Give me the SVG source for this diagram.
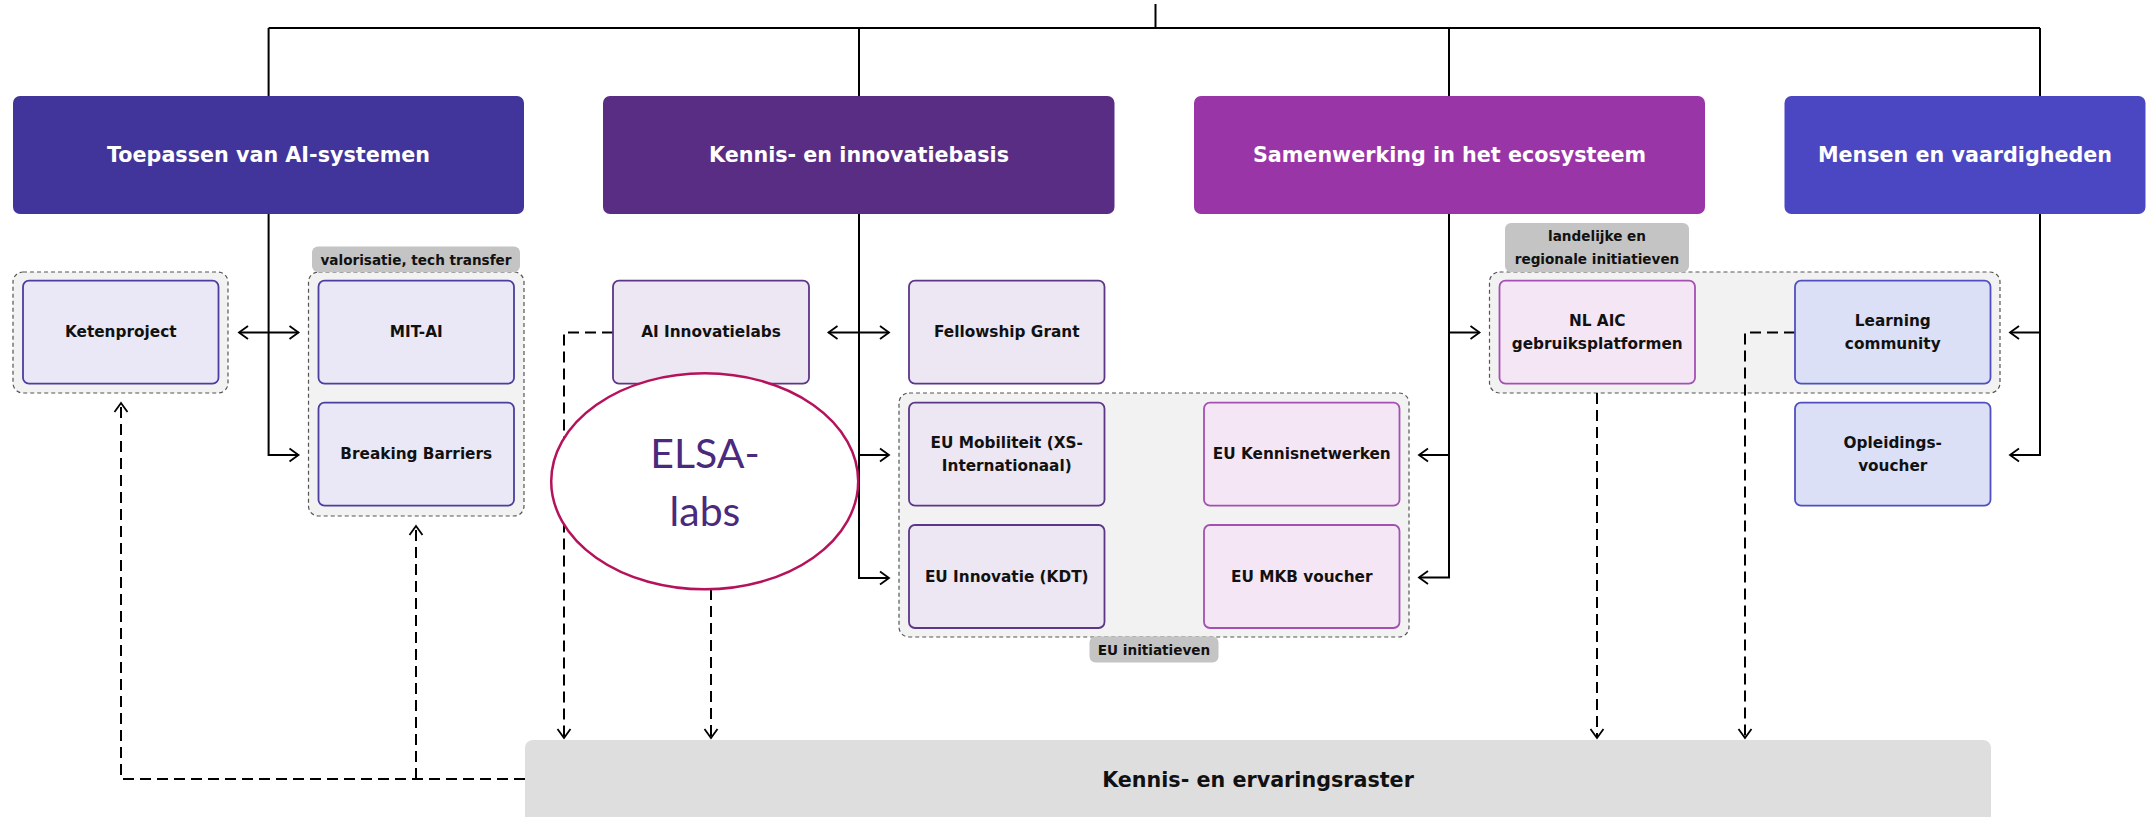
<svg xmlns="http://www.w3.org/2000/svg" width="2148" height="817" viewBox="0 0 2148 817">
<style>
.hdr{stroke:none}
.ht{font-family:"DejaVu Sans",sans-serif;font-weight:bold;font-size:20.7px;fill:#fff;text-anchor:middle;dominant-baseline:central}
.bx{stroke-width:1.8}
.b1{fill:#eae8f6;stroke:#4a3f9f}
.b2{fill:#ece7f3;stroke:#5c3687}
.b3{fill:#f5e6f6;stroke:#a450b3}
.b4{fill:#dbe0f6;stroke:#4f4fc0}
.bt{font-family:"DejaVu Sans",sans-serif;font-weight:bold;font-size:15.3px;fill:#111;text-anchor:middle;dominant-baseline:central}
.grp{fill:#f2f2f2;stroke:#555;stroke-width:1.2;stroke-dasharray:4 3}
.tag{fill:#c4c4c4}
.tt{font-family:"DejaVu Sans",sans-serif;font-weight:bold;font-size:13.6px;fill:#111;text-anchor:middle;dominant-baseline:central}
.ln{fill:none;stroke:#000;stroke-width:2}
.ds{fill:none;stroke:#000;stroke-width:2;stroke-dasharray:11 6}
</style>
<defs>
<marker id="ar" markerWidth="14" markerHeight="16" refX="11" refY="8" orient="auto-start-reverse" markerUnits="userSpaceOnUse">
<path d="M2,1.5 L11,8 L2,14.5" fill="none" stroke="#000" stroke-width="1.8"/>
</marker>
</defs>

<!-- groups (dashed containers) -->
<g id="group-keten"><rect class="grp" x="13" y="272" width="215" height="121" rx="10"/></g>
<g id="group-valorisatie">
<rect class="grp" x="308.5" y="272" width="215.5" height="244" rx="10"/>
<rect class="tag" x="312" y="246.5" width="208" height="25.5" rx="6"/>
<text class="tt" x="416" y="259.5">valorisatie, tech transfer</text>
</g>
<g id="group-eu">
<rect class="grp" x="899" y="393" width="510" height="244" rx="10"/>
<rect class="tag" x="1089.5" y="636.5" width="129" height="26" rx="6"/>
<text class="tt" x="1154" y="649.5">EU initiatieven</text>
</g>
<g id="group-landelijk">
<rect class="grp" x="1489.5" y="272" width="510.5" height="121" rx="10"/>
<rect class="tag" x="1505" y="223" width="184" height="49" rx="6"/>
<text class="tt" x="1597" y="236">landelijke en</text>
<text class="tt" x="1597" y="259">regionale initiatieven</text>
</g>

<!-- connectors -->
<g id="connectors">
<path class="ln" d="M1155.5,4 V28"/>
<path class="ln" d="M268.6,28 H2040"/>
<path class="ln" d="M268.6,28 V96 M859,28 V96 M1449,28 V96 M2040,28 V96"/>
<path class="ln" d="M268.6,214 V455 H298.5" marker-end="url(#ar)"/>
<path class="ln" d="M239,332.5 H298.5" marker-start="url(#ar)" marker-end="url(#ar)"/>
<path class="ln" d="M859,214 V578 H889" marker-end="url(#ar)"/>
<path class="ln" d="M859,455 H889" marker-end="url(#ar)"/>
<path class="ln" d="M828.5,332.5 H889" marker-start="url(#ar)" marker-end="url(#ar)"/>
<path class="ln" d="M1449,214 V577.5 H1419" marker-end="url(#ar)"/>
<path class="ln" d="M1449,455 H1419" marker-end="url(#ar)"/>
<path class="ln" d="M1449,332.5 H1479.5" marker-end="url(#ar)"/>
<path class="ln" d="M2040,214 V455 H2010" marker-end="url(#ar)"/>
<path class="ln" d="M2040,332.5 H2010" marker-end="url(#ar)"/>
<path class="ds" d="M613,332.5 H564 V738" marker-end="url(#ar)"/>
<path class="ds" d="M711,589 V738" marker-end="url(#ar)"/>
<path class="ds" d="M1597,393 V738" marker-end="url(#ar)"/>
<path class="ds" d="M1795,332.5 H1745 V738" marker-end="url(#ar)"/>
<path class="ds" d="M525,779 H121 V403" marker-end="url(#ar)"/>
<path class="ds" d="M416,779 V526" marker-end="url(#ar)"/>
</g>

<!-- headers -->
<g id="h-toepassen"><rect class="hdr" x="13" y="96" width="511" height="118" rx="7" fill="#41359b"/><text class="ht" x="268.5" y="155">Toepassen van AI-systemen</text></g>
<g id="h-kennis"><rect class="hdr" x="603" y="96" width="511.5" height="118" rx="7" fill="#5a2d84"/><text class="ht" x="859" y="155">Kennis- en innovatiebasis</text></g>
<g id="h-samenwerking"><rect class="hdr" x="1194" y="96" width="511" height="118" rx="7" fill="#9a35a8"/><text class="ht" x="1449.5" y="155">Samenwerking in het ecosysteem</text></g>
<g id="h-mensen"><rect class="hdr" x="1784.5" y="96" width="361" height="118" rx="7" fill="#4b47c2"/><text class="ht" x="1965" y="155">Mensen en vaardigheden</text></g>

<!-- boxes -->
<g id="n-ketenproject"><rect class="bx b1" x="23" y="280.7" width="195.5" height="103" rx="6"/><text class="bt" x="120.75" y="332.2">Ketenproject</text></g>
<g id="n-mitai"><rect class="bx b1" x="318.5" y="280.7" width="195.5" height="103" rx="6"/><text class="bt" x="416.25" y="332.2">MIT-AI</text></g>
<g id="n-breaking"><rect class="bx b1" x="318.5" y="402.7" width="195.5" height="103" rx="6"/><text class="bt" x="416.25" y="454.2">Breaking Barriers</text></g>
<g id="n-aiinnovatielabs"><rect class="bx b2" x="613" y="280.7" width="196" height="103" rx="6"/><text class="bt" x="711" y="332.2">AI Innovatielabs</text></g>
<g id="n-fellowship"><rect class="bx b2" x="909" y="280.7" width="195.5" height="103" rx="6"/><text class="bt" x="1006.75" y="332.2">Fellowship Grant</text></g>
<g id="n-eumobiliteit"><rect class="bx b2" x="909" y="402.7" width="195.5" height="103" rx="6"/><text class="bt" x="1006.75" y="443">EU Mobiliteit (XS-</text><text class="bt" x="1006.75" y="466">Internationaal)</text></g>
<g id="n-euinnovatie"><rect class="bx b2" x="909" y="525" width="195.5" height="103" rx="6"/><text class="bt" x="1006.75" y="576.5">EU Innovatie (KDT)</text></g>
<g id="n-eukennis"><rect class="bx b3" x="1204" y="402.7" width="195.5" height="103" rx="6"/><text class="bt" x="1301.75" y="454.2">EU Kennisnetwerken</text></g>
<g id="n-eumkb"><rect class="bx b3" x="1204" y="525" width="195.5" height="103" rx="6"/><text class="bt" x="1301.75" y="576.5">EU MKB voucher</text></g>
<g id="n-nlaic"><rect class="bx b3" x="1499.5" y="280.7" width="195.5" height="103" rx="6"/><text class="bt" x="1597.25" y="321">NL AIC</text><text class="bt" x="1597.25" y="344">gebruiksplatformen</text></g>
<g id="n-learning"><rect class="bx b4" x="1795" y="280.7" width="195.5" height="103" rx="6"/><text class="bt" x="1892.75" y="321">Learning</text><text class="bt" x="1892.75" y="344">community</text></g>
<g id="n-opleidings"><rect class="bx b4" x="1795" y="402.7" width="195.5" height="103" rx="6"/><text class="bt" x="1892.75" y="443">Opleidings-</text><text class="bt" x="1892.75" y="466">voucher</text></g>

<!-- ELSA-labs ellipse -->
<g id="n-elsa">
<ellipse cx="704.7" cy="481.3" rx="153.5" ry="108" fill="#fff" stroke="#b5125b" stroke-width="2.5"/>
<text x="705" y="468" font-family="Lato, sans-serif" font-size="41" fill="#4a2a7c" text-anchor="middle">ELSA-</text>
<text x="705" y="526" font-family="Lato, sans-serif" font-size="41" fill="#4a2a7c" text-anchor="middle">labs</text>
</g>

<!-- Kennis- en ervaringsraster -->
<g id="n-raster">
<rect x="525" y="740" width="1466" height="90" rx="8" fill="#dedede"/>
<text class="ht" x="1258" y="780" style="fill:#111">Kennis- en ervaringsraster</text>
</g>
</svg>
